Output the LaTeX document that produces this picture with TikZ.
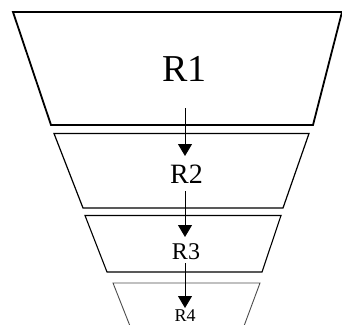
\documentclass[tikz,border=0pt]{standalone}
\usepackage{fontspec}
\setmainfont{Liberation Serif}
\usetikzlibrary{arrows.meta}
\begin{document}
\begin{tikzpicture}[x=1pt,y=-1pt,
  tier/.style={draw=black,line join=miter},
  lbl/.style={inner sep=0pt,anchor=base},
  flow/.style={draw=black,line width=1pt,-{Triangle[length=12pt,width=14pt]}}]
\useasboundingbox (0,0) rectangle (342,324);
% trapezoids
\draw[tier,line width=1.8pt] (13,12) -- (342,12) -- (313,125) -- (51,125) -- cycle;
\draw[tier,line width=1.2pt] (54,133.5) -- (309,133.5) -- (283,208) -- (83,208) -- cycle;
\draw[tier,line width=1.1pt] (85,215.5) -- (281,215.5) -- (262,272) -- (107,272) -- cycle;
\draw[tier,line width=0.9pt,draw=black!70] (130,326) -- (113,283) -- (260,283) -- (244,326);
% labels
\node[lbl,font=\fontsize{38}{38}\selectfont] (r1) at (184.5,81) {R1};
\node[lbl,font=\fontsize{28}{28}\selectfont] (r2) at (186.5,183.3) {R2};
\node[lbl,font=\fontsize{24}{24}\selectfont] (r3) at (186,259.3) {R3};
\node[lbl,font=\fontsize{18}{18}\selectfont] (r4) at (185,321.3) {R4};
% arrows
\coordinate (a1s) at (185,108);
\coordinate (a1e) at (185,156);
\coordinate (a2s) at (185,191);
\coordinate (a2e) at (185,237);
\coordinate (a3s) at (185,263);
\coordinate (a3e) at (185,308);
\draw[flow] (a1s) -- (a1e);
\draw[flow] (a2s) -- (a2e);
\draw[flow] (a3s) -- (a3e);
\end{tikzpicture}
\end{document}
